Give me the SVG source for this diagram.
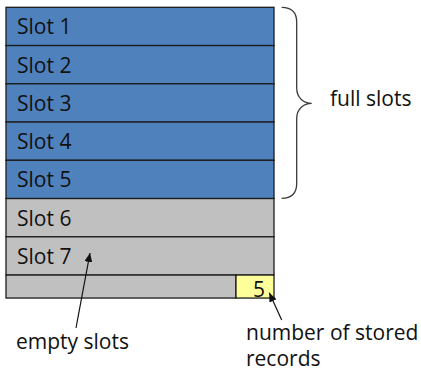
<svg xmlns="http://www.w3.org/2000/svg" width="421" height="372" viewBox="0 0 421 372">
  <style>
    .full { fill: #4F81BD; stroke: #1C1C1C; stroke-width: 1.3; }
    .empty { fill: #C0C0C0; stroke: #1C1C1C; stroke-width: 1.3; }
    .count { fill: #FFFF99; stroke: #1C1C1C; stroke-width: 1.3; }
    text { font-family: "Open Sans", "Liberation Sans", sans-serif; font-size: 21px; fill: #111; }
    .conn { stroke: #111; stroke-width: 1.2; fill: none; }
    .brace { stroke: #3A3A3A; stroke-width: 1.3; fill: none; }
  </style>
  <defs>
    <marker id="arrow" markerUnits="userSpaceOnUse" markerWidth="10" markerHeight="8" refX="9" refY="4" orient="auto">
      <path d="M0,0 L9,4 L0,8 Z" fill="#111"/>
    </marker>
  </defs>
  <rect width="421" height="372" fill="#FFFFFF"/>
  <g id="slot1"><rect class="full" x="6" y="7.3" width="268" height="38.25"/><text x="17" y="34.3">Slot 1</text></g>
  <g id="slot2"><rect class="full" x="6" y="45.55" width="268" height="38.25"/><text x="17" y="72.5">Slot 2</text></g>
  <g id="slot3"><rect class="full" x="6" y="83.8" width="268" height="38.25"/><text x="17" y="110.8">Slot 3</text></g>
  <g id="slot4"><rect class="full" x="6" y="122.05" width="268" height="38.25"/><text x="17" y="149">Slot 4</text></g>
  <g id="slot5"><rect class="full" x="6" y="160.3" width="268" height="38.25"/><text x="17" y="187.3">Slot 5</text></g>
  <g id="slot6"><rect class="empty" x="6" y="198.55" width="268" height="38.25"/><text x="17" y="225.5">Slot 6</text></g>
  <g id="slot7"><rect class="empty" x="6" y="236.8" width="268" height="38.25"/><text x="17" y="263.8">Slot 7</text></g>
  <g id="footer">
    <rect class="empty" x="6" y="275.05" width="230" height="23"/>
    <rect class="count" x="236" y="275.05" width="38" height="23"/>
    <text x="253" y="297">5</text>
  </g>
  <g id="full-slots">
    <path class="brace" d="M281.7,7.3 Q296.7,7.3 296.7,22.3 L296.7,88 C296.7,98 304,103.3 311.7,103.3 C304,103.3 296.7,108.6 296.7,118.6 L296.7,183.3 Q296.7,198.3 281.7,198.3"/>
    <text x="330" y="106">full slots</text>
  </g>
  <g id="empty-slots-label"><text x="16" y="349">empty slots</text></g>
  <g id="count-label"><text x="246" y="340">number of stored</text><text x="246" y="366">records</text></g>
  <g id="connectors">
    <line class="conn" x1="76" y1="328" x2="90" y2="253" marker-end="url(#arrow)"/>
    <line class="conn" x1="281.7" y1="320" x2="269.3" y2="292.7" marker-end="url(#arrow)"/>
  </g>
</svg>
